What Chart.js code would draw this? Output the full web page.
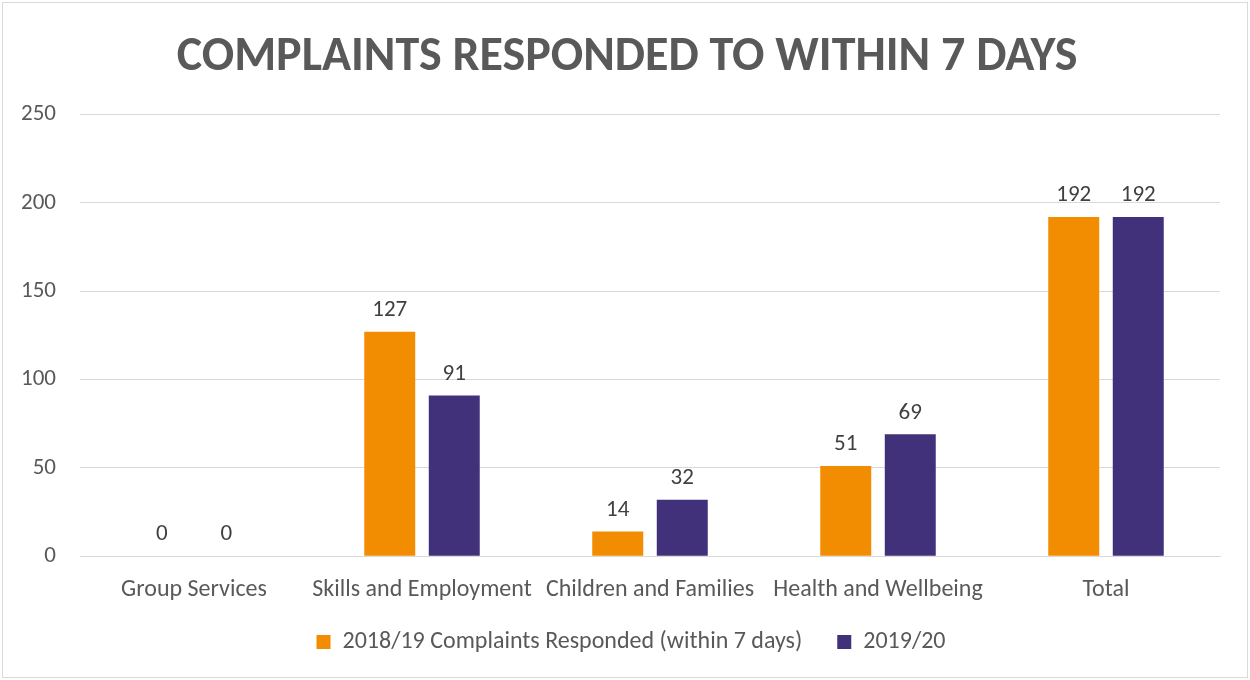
<!DOCTYPE html>
<html>
<head>
<meta charset="utf-8">
<script src="https://cdn.jsdelivr.net/npm/chart.js@4"></script>
<style>
  body { margin: 0; background: #fff; }
  #wrap { width: 1250px; height: 680px; position: relative; }
</style>
</head>
<body>
<div id="wrap"><canvas id="chart" width="1250" height="680"></canvas></div>
<script>
const categories = ['Group Services', 'Skills and Employment', 'Children and Families', 'Health and Wellbeing', 'Total'];
const values2018 = [0, 127, 14, 51, 192];
const values2019 = [0, 91, 32, 69, 192];
const seriesNames = ['2018/19 Complaints Responded (within 7 days)', '2019/20'];

const fontFamily = 'Carlito, Calibri, "Open Sans", sans-serif';

// border round the whole picture
const frame = {
  id: 'frame',
  beforeDraw(chart) {
    const c = chart.ctx;
    c.save();
    c.fillStyle = '#fff';
    c.fillRect(0, 0, chart.width, chart.height);
    c.strokeStyle = '#d9d9d9';
    c.lineWidth = 1;
    c.strokeRect(2.5, 2.5, chart.width - 5, chart.height - 5);
    c.restore();
  }
};

// centre title and legend on the whole picture, pull legend up under the labels
const nudge = {
  id: 'nudge',
  afterLayout(chart) {
    const t = chart.titleBlock;
    const l = chart.legend;
    t.left += 16; t.right += 16;
    l.left += 20; l.right += 20;
    l.top -= 20; l.bottom -= 20;
  }
};

// value labels above each bar
const valueLabels = {
  id: 'valueLabels',
  afterDatasetsDraw(chart) {
    const c = chart.ctx;
    c.save();
    c.font = '23px ' + fontFamily;
    c.fillStyle = '#404040';
    c.textAlign = 'center';
    c.textBaseline = 'bottom';
    chart.data.datasets.forEach((ds, i) => {
      chart.getDatasetMeta(i).data.forEach((bar, j) => {
        c.fillText(ds.data[j], bar.x, bar.y - 10);
      });
    });
    c.restore();
  }
};

const ctx = document.getElementById('chart').getContext('2d');
new Chart(ctx, {
  type: 'bar',
  data: {
    labels: categories,
    datasets: [{
      label: seriesNames[0],
      data: values2018,
      backgroundColor: '#f28c00',
      categoryPercentage: 0.566,
      barPercentage: 0.79
    }, {
      label: seriesNames[1],
      data: values2019,
      backgroundColor: '#41317a',
      categoryPercentage: 0.566,
      barPercentage: 0.79
    }]
  },
  plugins: [frame, nudge, valueLabels],
  options: {
    responsive: false,
    animation: false,
    layout: { padding: { left: 2, right: 30, top: 14, bottom: -4 } },
    plugins: {
      title: {
        display: true,
        text: 'COMPLAINTS RESPONDED TO WITHIN 7 DAYS',
        color: '#595959',
        font: { family: fontFamily, size: 48, weight: 'bold' },
        padding: { top: 15, bottom: 28 }
      },
      legend: {
        position: 'bottom',
        labels: {
          color: '#595959',
          font: { family: fontFamily, size: 24 },
          boxWidth: 14,
          boxHeight: 14,
          padding: 35
        }
      },
      tooltip: { enabled: false }
    },
    scales: {
      x: {
        grid: { display: false },
        border: { color: '#d9d9d9' },
        ticks: { color: '#595959', font: { family: fontFamily, size: 24 }, padding: 11 }
      },
      y: {
        min: 0,
        max: 250,
        afterFit(scale) { scale.width = 78; },
        ticks: { stepSize: 50, color: '#595959', font: { family: fontFamily, size: 23 }, padding: 24 },
        grid: { color: '#d9d9d9', drawTicks: false },
        border: { display: false }
      }
    }
  }
});
</script>
</body>
</html>
